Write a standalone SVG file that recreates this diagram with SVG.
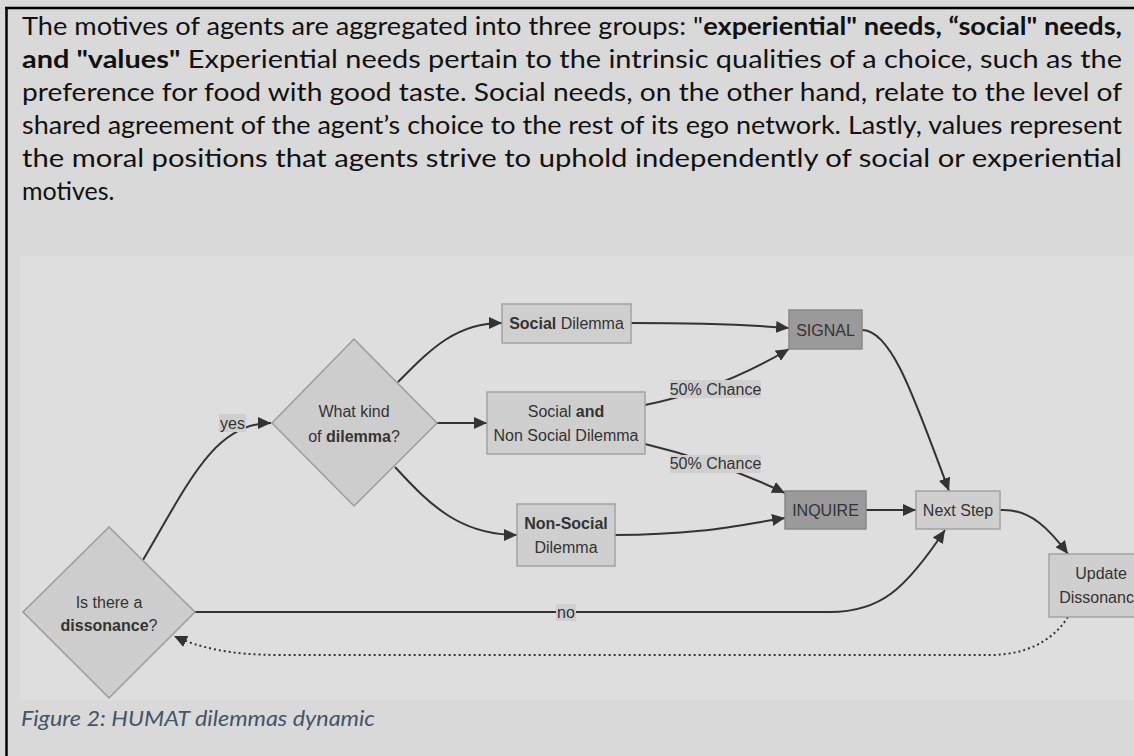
<svg xmlns="http://www.w3.org/2000/svg" width="1134" height="756" viewBox="0 0 1134 756">
  <defs>
    <style>
      .body{font-family:Lato,"Open Sans","Liberation Sans",sans-serif;font-size:25px;fill:#111}
      .b{font-weight:700}
      .cap{font-family:Lato,"Open Sans","Liberation Sans",sans-serif;font-size:22px;font-style:italic;fill:#44546a}
      .lbl{font-family:"Liberation Sans",Arial,sans-serif;font-size:16px;fill:#333;text-anchor:middle}
      .box{fill:#cfcfcf;stroke:#a3a3a3;stroke-width:1.5}
      .dark{fill:#9a9a9a;stroke:#888;stroke-width:1.5}
      .dia{fill:#cdcdcd;stroke:#9c9c9c;stroke-width:1.5}
      .edge{fill:none;stroke:#333;stroke-width:2}
      .dot{stroke-dasharray:2 3}
      .tag{fill:#cfcfcf}
    </style>
    <marker id="arr" markerUnits="userSpaceOnUse" markerWidth="14" markerHeight="12" refX="13" refY="6" orient="auto">
      <path d="M0,0 L13,6 L0,12 z" fill="#333"/>
    </marker>
  </defs>

  <!-- page background and frame -->
  <rect x="0" y="0" width="1134" height="756" fill="#d9d9d9"/>
  <rect x="20" y="256" width="1114" height="444" fill="#dedede"/>
  <line x1="5" y1="8" x2="1134" y2="8" stroke="#000" stroke-width="2.5"/>
  <line x1="6.5" y1="8" x2="6.5" y2="756" stroke="#000" stroke-width="2.5"/>

  <!-- paragraph -->
  <g id="paragraph" class="body">
    <text x="22" y="35" textLength="1100" lengthAdjust="spacingAndGlyphs">The motives of agents are aggregated into three groups: "<tspan class="b">experiential" needs, “social" needs,</tspan></text>
    <text x="22" y="68" textLength="1100" lengthAdjust="spacingAndGlyphs"><tspan class="b">and "values"</tspan> Experiential needs pertain to the intrinsic qualities of a choice, such as the</text>
    <text x="22" y="101" textLength="1100" lengthAdjust="spacingAndGlyphs">preference for food with good taste. Social needs, on the other hand, relate to the level of</text>
    <text x="22" y="134" textLength="1100" lengthAdjust="spacingAndGlyphs">shared agreement of the agent’s choice to the rest of its ego network. Lastly, values represent</text>
    <text x="22" y="167" textLength="1100" lengthAdjust="spacingAndGlyphs">the moral positions that agents strive to uphold independently of social or experiential</text>
    <text x="22" y="200">motives.</text>
  </g>

  <!-- connectors -->
  <g id="connectors">
    <path class="edge" d="M143,560 C190,480 215,423 271,423" marker-end="url(#arr)"/>
    <path class="edge" d="M437,423 L487,423" marker-end="url(#arr)"/>
    <path class="edge" d="M398,382 C430,350 455,323 502,323" marker-end="url(#arr)"/>
    <path class="edge" d="M395,467 C430,505 460,535 517,535" marker-end="url(#arr)"/>
    <path class="edge" d="M631,323 C700,323 740,324 789,328" marker-end="url(#arr)"/>
    <path class="edge" d="M645,405 Q720,390 789,349" marker-end="url(#arr)"/>
    <path class="edge" d="M645,444 Q720,462 785,493" marker-end="url(#arr)"/>
    <path class="edge" d="M615,535 C700,535 740,525 785,518" marker-end="url(#arr)"/>
    <path class="edge" d="M862,330 C892,330 915,400 949,491" marker-end="url(#arr)"/>
    <path class="edge" d="M866,510 L916,510" marker-end="url(#arr)"/>
    <path class="edge" d="M1000,510 C1030,508 1050,530 1068,554" marker-end="url(#arr)"/>
    <path class="edge" d="M195,612 L830,612 C880,612 905,590 945,530" marker-end="url(#arr)"/>
    <path class="edge dot" d="M1068,617 C1050,645 1020,655 990,655 L280,655 C230,655 200,648 174,636" marker-end="url(#arr)"/>

    <!-- edge labels -->
    <rect class="tag" x="219" y="414" width="27" height="18"/>
    <text class="lbl" x="232.5" y="428.5">yes</text>
    <rect class="tag" x="556" y="604" width="20" height="17"/>
    <text class="lbl" x="566" y="618">no</text>
    <rect class="tag" x="670" y="380" width="91" height="18"/>
    <text class="lbl" x="715.5" y="395">50% Chance</text>
    <rect class="tag" x="670" y="455" width="91" height="18"/>
    <text class="lbl" x="715.5" y="469">50% Chance</text>
  </g>

  <!-- nodes -->
  <g id="dissonance-check">
    <polygon class="dia" points="109,527 195,612 109,698 23,612"/>
    <text class="lbl" x="109" y="608">Is there a</text>
    <text class="lbl" x="109" y="631"><tspan class="b">dissonance</tspan>?</text>
  </g>
  <g id="dilemma-kind">
    <polygon class="dia" points="354,339 437,423 354,506 272,423"/>
    <text class="lbl" x="354" y="417">What kind</text>
    <text class="lbl" x="354" y="442">of <tspan class="b">dilemma</tspan>?</text>
  </g>
  <g id="social-dilemma">
    <rect class="box" x="502" y="304" width="129" height="39"/>
    <text class="lbl" x="566.5" y="329"><tspan class="b">Social</tspan> Dilemma</text>
  </g>
  <g id="mixed-dilemma">
    <rect class="box" x="487" y="392" width="158" height="62"/>
    <text class="lbl" x="566" y="417">Social <tspan class="b">and</tspan></text>
    <text class="lbl" x="566" y="441">Non Social Dilemma</text>
  </g>
  <g id="non-social-dilemma">
    <rect class="box" x="517" y="504" width="98" height="62"/>
    <text class="lbl" x="566" y="529"><tspan class="b">Non-Social</tspan></text>
    <text class="lbl" x="566" y="553">Dilemma</text>
  </g>
  <g id="signal">
    <rect class="dark" x="789" y="310" width="73" height="39"/>
    <text class="lbl" x="825.5" y="336">SIGNAL</text>
  </g>
  <g id="inquire">
    <rect class="dark" x="785" y="491" width="81" height="38"/>
    <text class="lbl" x="825.5" y="516">INQUIRE</text>
  </g>
  <g id="next-step">
    <rect class="box" x="916" y="491" width="84" height="38"/>
    <text class="lbl" x="958" y="516">Next Step</text>
  </g>
  <g id="update-dissonance">
    <rect class="box" x="1049" y="554" width="104" height="63"/>
    <text class="lbl" x="1101" y="579">Update</text>
    <text class="lbl" x="1101" y="603">Dissonance</text>
  </g>

  <!-- caption -->
  <text class="cap" x="21" y="726" textLength="354" lengthAdjust="spacingAndGlyphs">Figure 2: HUMAT dilemmas dynamic</text>
</svg>
